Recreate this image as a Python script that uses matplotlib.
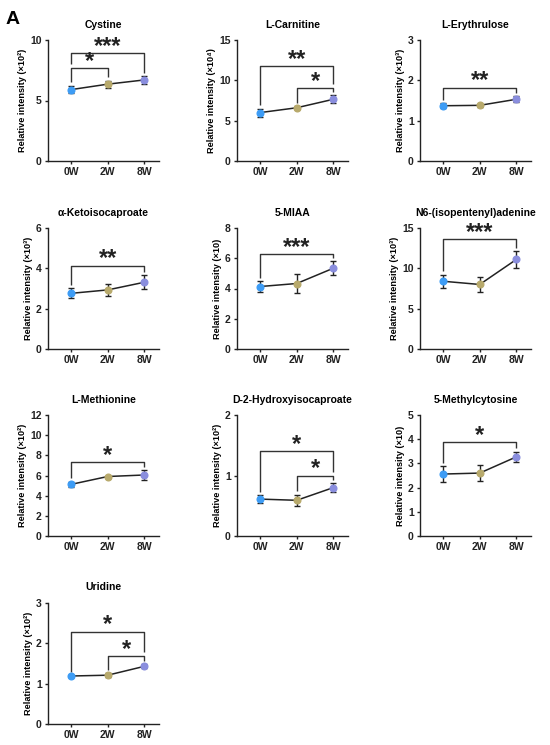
# line plots of metabolite intensity over 0W / 2W / 8W with significance brackets

import matplotlib.pyplot as plt
import numpy as np

plt.rcParams['font.family'] = ['Liberation Sans', 'DejaVu Sans']
plt.rcParams['font.weight'] = 'bold'

groups = ['0W', '2W', '8W']
colors = ['#3d9cf5', '#b8aa6c', '#8a8ede']

names = ['Cystine', 'L-Carnitine', 'L-Erythrulose',
         'α-Ketoisocaproate', '5-MIAA', 'N6-(isopentenyl)adenine',
         'L-Methionine', 'D-2-Hydroxyisocaproate', '5-Methylcytosine',
         'Uridine']
units = ['×10²', '×10⁴', '×10³',
         '×10³', '×10', '×10³',
         '×10²', '×10²', '×10',
         '×10²']
ymax = [10, 15, 3, 6, 8, 15, 12, 2, 5, 3]
ystep = [5, 5, 1, 2, 2, 5, 2, 1, 1, 1]

means = [[5.9, 6.35, 6.7],
         [6.0, 6.6, 7.65],
         [1.37, 1.38, 1.53],
         [2.76, 2.93, 3.31],
         [4.13, 4.33, 5.34],
         [8.4, 8.0, 11.1],
         [5.12, 5.9, 6.05],
         [0.61, 0.59, 0.80],
         [2.56, 2.6, 3.27],
         [1.19, 1.21, 1.43]]
errs = [[0.3, 0.3, 0.3],
        [0.5, 0.2, 0.5],
        [0.06, 0.04, 0.07],
        [0.25, 0.3, 0.35],
        [0.35, 0.6, 0.45],
        [0.8, 0.95, 1.0],
        [0.25, 0.1, 0.45],
        [0.06, 0.09, 0.07],
        [0.32, 0.34, 0.22],
        [0.02, 0.05, 0.05]]

# (group a, group b, stars, bracket height)
sig = [[(0, 1, '*', 7.7), (0, 2, '***', 8.95)],
       [(1, 2, '*', 9.06), (0, 2, '**', 11.77)],
       [(0, 2, '**', 1.82)],
       [(0, 2, '**', 4.14)],
       [(0, 2, '***', 6.3)],
       [(0, 2, '***', 13.67)],
       [(0, 2, '*', 7.37)],
       [(1, 2, '*', 1.0), (0, 2, '*', 1.40)],
       [(0, 2, '*', 3.88)],
       [(1, 2, '*', 1.69), (0, 2, '*', 2.29)]]

W, H = 550, 745
col_left = [48, 237, 420]
row_top = [40, 228, 415, 603]
aw, ah = 111, 121

fig = plt.figure(figsize=(5.5, 7.45), dpi=100)
fig.text(6 / W, 1 - 24 / H, 'A', fontsize=14, fontweight='bold')

x = np.arange(3)
for k in range(len(names)):
    r, c = divmod(k, 3)
    ax = fig.add_axes([col_left[c] / W, 1 - (row_top[r] + ah) / H, aw / W, ah / H])
    ax.plot(x, means[k], color='#222222', lw=1.1, zorder=2)
    for i in range(3):
        ax.errorbar(x[i], means[k][i], yerr=errs[k][i], fmt='o', color=colors[i],
                    ecolor='#222222', elinewidth=1.0, capsize=2.4, capthick=1.0,
                    markersize=4.8, zorder=3)
    ax.set_xlim(-0.63, 2.4)
    ax.set_ylim(0, ymax[k])
    ax.set_yticks(np.arange(0, ymax[k] + 0.001, ystep[k]))
    ax.set_xticks(x)
    ax.set_xticklabels(groups)
    ax.spines['top'].set_visible(False)
    ax.spines['right'].set_visible(False)
    for s in ['left', 'bottom']:
        ax.spines[s].set_linewidth(1.0)
        ax.spines[s].set_color('#222222')
    ax.tick_params(labelsize=7.5, length=2.5, width=1.0, pad=2, colors='#222222')
    ax.set_ylabel('Relative intensity (' + units[k] + ')', fontsize=6.6, fontweight='bold', labelpad=2)
    ax.set_title(names[k], fontsize=7.5, fontweight='bold', pad=9)

    # significance brackets
    rng = ymax[k]
    done = []
    for a, b, stars, h in sig[k]:
        legs = []
        for g in (a, b):
            low = means[k][g] + errs[k][g] + 0.03 * rng
            for a2, b2, _, h2 in done:
                if g in (a2, b2):
                    low = max(low, h2 + 0.03 * rng)
            legs.append(low)
        ax.plot([a, a, b, b], [legs[0], h, h, legs[1]], color='#333333', lw=1.0,
                solid_capstyle='butt', clip_on=False, zorder=1)
        ax.annotate(stars, xy=((a + b) / 2, h), xytext=(0, -3.5), textcoords='offset points',
                    ha='center', va='bottom', fontsize=17, fontweight='bold',
                    color='#222222', annotation_clip=False)
        done.append((a, b, stars, h))

fig.savefig('out.png', dpi=100, facecolor='white')
